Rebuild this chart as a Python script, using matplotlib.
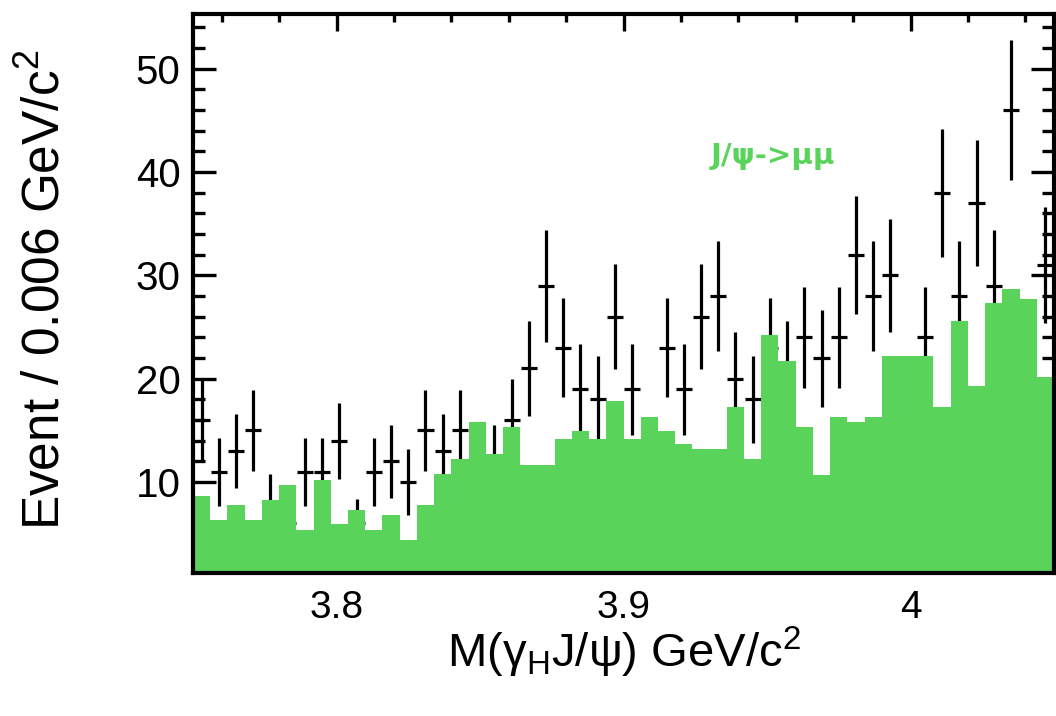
import numpy as np
import matplotlib.pyplot as plt
from matplotlib.ticker import MultipleLocator, FuncFormatter

plt.rcParams['font.family'] = ['Liberation Sans', 'DejaVu Sans']
plt.rcParams['mathtext.default'] = 'regular'

# binning: 50 bins of 0.006 GeV/c^2 from 3.75 to 4.05
x_lo = 3.75
bin_w = 0.006
n_bins = 50

# green histogram (MC / reference shape)
mc_counts = [8.7, 6.3, 7.8, 6.3, 8.3, 9.7, 5.4, 10.2, 5.9, 7.3,
             5.4, 6.8, 4.4, 7.8, 10.8, 12.2, 15.8, 12.7, 15.3, 11.7,
             11.7, 14.2, 14.9, 14.2, 17.8, 14.2, 16.3, 14.9, 13.7, 13.2,
             13.2, 17.3, 12.2, 24.2, 21.7, 15.3, 10.7, 16.3, 15.8, 16.3,
             22.2, 22.2, 22.2, 17.3, 25.6, 19.3, 27.3, 28.7, 27.7, 20.2]

# data points
data_counts = [16, 11, 13, 15, 8, 6, 11, 11, 14, 6,
               11, 12, 10, 15, 13, 15, 12, 12, 16, 21,
               29, 23, 19, 18, 26, 19, 12, 23, 19, 26,
               28, 20, 18, 23, 21, 24, 22, 24, 32, 28,
               30, 16, 24, 38, 28, 37, 29, 46, 20, 31]
data_errs = [4.0, 3.3, 3.6, 3.9, 2.8, 2.4, 3.3, 3.3, 3.7, 2.4,
             3.3, 3.5, 3.2, 3.9, 3.6, 3.9, 3.5, 3.5, 4.0, 4.6,
             5.4, 4.8, 4.4, 4.2, 5.1, 4.4, 3.5, 4.8, 4.4, 5.1,
             5.3, 4.5, 4.2, 4.8, 4.6, 4.9, 4.7, 4.9, 5.7, 5.3,
             5.5, 4.0, 4.9, 6.2, 5.3, 6.1, 5.4, 6.8, 4.5, 5.6]

edges = x_lo + bin_w * np.arange(n_bins + 1)
centers = 0.5 * (edges[:-1] + edges[1:])

green = '#5ad35a'

fig = plt.figure(figsize=(10.56, 7.16), dpi=100)
ax = fig.add_axes([193 / 1056, 1 - 573 / 716, 861 / 1056, 559 / 716])

# data drawn first, the green histogram covers it (as in the original)
ax.errorbar(centers, data_counts, yerr=data_errs, xerr=0.0028, fmt='none',
            ecolor='black', elinewidth=2.3, capsize=0, zorder=1.5)
ax.bar(edges[:-1], mc_counts, width=bin_w, align='edge', color=green,
       edgecolor='none', linewidth=0, zorder=2)

ax.set_xlim(3.75, 4.05)
ax.set_ylim(1.2, 55.3)

ax.set_axisbelow(True)
for s in ax.spines.values():
    s.set_linewidth(3)
    s.set_zorder(10)

ax.xaxis.set_major_locator(MultipleLocator(0.1))
ax.xaxis.set_minor_locator(MultipleLocator(0.02))
ax.yaxis.set_major_locator(MultipleLocator(10))
ax.yaxis.set_minor_locator(MultipleLocator(2))
ax.xaxis.set_major_formatter(FuncFormatter(lambda v, p: '%g' % round(v, 3)))

ax.tick_params(axis='x', which='both', direction='in', top=True, bottom=True,
               width=2.4, labelsize=28, pad=12)
ax.tick_params(axis='x', which='major', length=12)
ax.tick_params(axis='x', which='minor', length=6)
ax.tick_params(axis='y', which='both', direction='in', left=True, right=True,
               width=2.4, labelsize=29, pad=9)
ax.tick_params(axis='y', which='major', length=16.5)
ax.tick_params(axis='y', which='minor', length=8.5)

ax.text(3.9305, 40.8, 'J/ψ->μμ', color=green, fontsize=21, fontweight='bold',
        family=['DejaVu Sans'], ha='left', va='baseline')

fig.text(46 / 1056, 1 - 290 / 716, 'Event / 0.006 GeV/c$^{2}$', rotation=90,
         ha='center', va='center', fontsize=37)
fig.text(624 / 1056, 1 - 667 / 716, 'M(γ$_{H}$J/ψ) GeV/c$^{2}$',
         ha='center', va='baseline', fontsize=34)

fig.savefig('out.png', dpi=100)
